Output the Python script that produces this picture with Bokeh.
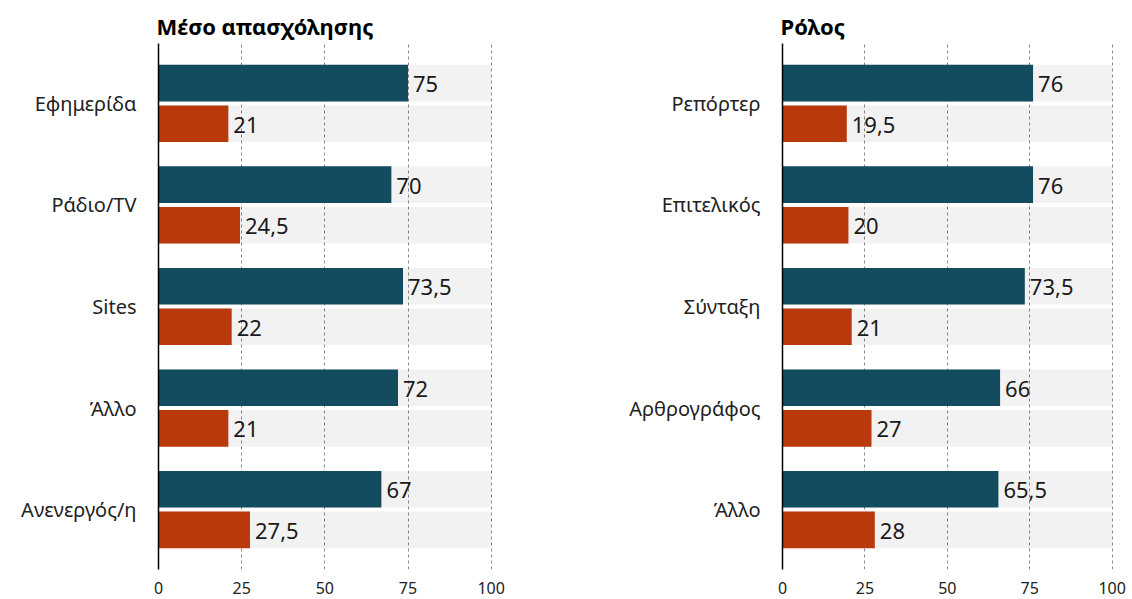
from bokeh.plotting import figure
from bokeh.models import FactorRange, FixedTicker, ColumnDataSource
from bokeh.transform import dodge
from bokeh.layouts import row
from bokeh.core.properties import value
from bokeh.embed import file_html
from bokeh.resources import INLINE

FONT = "Noto Sans"
TEAL = "#134b5f"
ORANGE = "#b9390d"

left_title = "Μέσο απασχόλησης"
left_categories = ["Εφημερίδα", "Ράδιο/TV", "Sites", "Άλλο", "Ανενεργός/η"]
left_teal = [75, 70, 73.5, 72, 67]
left_orange = [21, 24.5, 22, 21, 27.5]

right_title = "Ρόλος"
right_categories = ["Ρεπόρτερ", "Επιτελικός", "Σύνταξη", "Αρθρογράφος", "Άλλο"]
right_teal = [76, 76, 73.5, 66, 65.5]
right_orange = [19.5, 20, 21, 27, 28]

x_ticks = [0, 25, 50, 75, 100]
x_max = 100


def fmt(v):
    s = ("%g" % v)
    return s.replace(".", ",")


def make_panel(title, cats, teal, orange, width, border_left, border_right):
    factors = list(reversed(cats))
    yr = FactorRange(*factors, range_padding=0.09, range_padding_units="absolute")
    p = figure(width=width, height=599, y_range=yr, x_range=(0, 100.4),
               output_backend="svg", toolbar_location=None,
               min_border_left=border_left, min_border_right=border_right,
               min_border_top=43, min_border_bottom=30)
    src = ColumnDataSource(dict(
        cat=cats, teal=teal, orange=orange,
        full=[x_max] * len(cats),
        teal_lbl=[fmt(v) for v in teal],
        orange_lbl=[fmt(v) for v in orange],
    ))
    h = 0.36
    for off in (0.2, -0.2):
        p.hbar(y=dodge("cat", off, range=yr), left=0, right="full", height=h,
               source=src, fill_color="black", fill_alpha=0.05, line_color=None)
    p.hbar(y=dodge("cat", 0.2, range=yr), left=0, right="teal", height=h,
           source=src, fill_color=TEAL, line_color=None)
    p.hbar(y=dodge("cat", -0.2, range=yr), left=0, right="orange", height=h,
           source=src, fill_color=ORANGE, line_color=None)
    p.text(x="teal", y=dodge("cat", 0.2, range=yr), text="teal_lbl", source=src,
           x_offset=5, y_offset=1, text_baseline="middle", text_font=value(FONT),
           text_font_size="22px", text_color="#1a1a1a")
    p.text(x="orange", y=dodge("cat", -0.2, range=yr), text="orange_lbl", source=src,
           x_offset=5, y_offset=1, text_baseline="middle", text_font=value(FONT),
           text_font_size="22px", text_color="#1a1a1a")

    p.title.text = title
    p.title.text_font = FONT
    p.title.text_font_size = "22px"
    p.title.text_font_style = "bold"
    p.title.text_color = "black"
    p.title.offset = -2
    p.title.standoff = 5

    p.outline_line_color = None
    p.ygrid.grid_line_color = None
    p.xgrid.ticker = FixedTicker(ticks=x_ticks)
    p.xgrid.grid_line_color = "#8a8a8a"
    p.xgrid.grid_line_dash = "3 3"
    p.xgrid.grid_line_width = 1

    p.xaxis.ticker = FixedTicker(ticks=x_ticks)
    p.xaxis.axis_line_color = None
    p.xaxis.major_tick_line_color = None
    p.xaxis.minor_tick_line_color = None
    p.xaxis.major_tick_out = 0
    p.xaxis.major_tick_in = 0
    p.xaxis.minor_tick_out = 0
    p.xaxis.major_label_standoff = 12
    p.xaxis.major_label_text_line_height = 0.9
    p.xaxis.major_label_text_font = FONT
    p.xaxis.major_label_text_font_size = "16px"
    p.xaxis.major_label_text_color = "#222222"

    p.yaxis.axis_line_color = "black"
    p.yaxis.axis_line_width = 1.5
    p.yaxis.major_tick_line_color = None
    p.yaxis.minor_tick_line_color = None
    p.yaxis.major_tick_out = 0
    p.yaxis.major_tick_in = 0
    p.yaxis.minor_tick_out = 0
    p.yaxis.major_label_standoff = 22
    p.yaxis.major_label_text_font = FONT
    p.yaxis.major_label_text_font_size = "20px"
    p.yaxis.major_label_text_color = "#222222"
    return p


p1 = make_panel(left_title, left_categories, left_teal, left_orange, 624, 158, 132)
p2 = make_panel(right_title, right_categories, right_teal, right_orange, 506, 158, 17)

layout = row(p1, p2)
open("out.html", "w").write(file_html(layout, INLINE))
